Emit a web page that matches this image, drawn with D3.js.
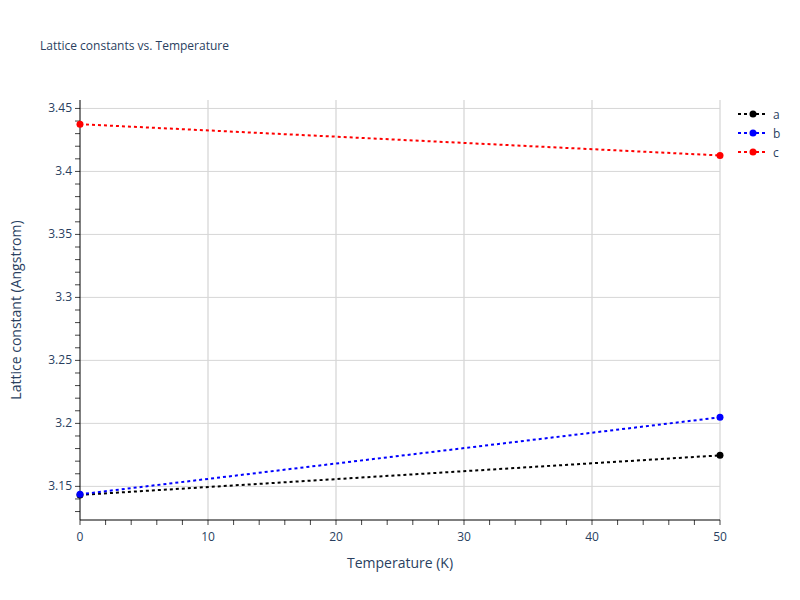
<!DOCTYPE html>
<html><head><meta charset="utf-8">
<script src="https://cdn.jsdelivr.net/npm/d3@7"></script>
<style>body{margin:0;background:#fff}text{font-family:"Open Sans",Arial,sans-serif}</style>
</head><body><svg id="c" width="800" height="600"></svg>
<script>
const temps = [0, 50];
const seriesNames = ["a", "b", "c"];
const aVals = [3.1432, 3.1746];
const bVals = [3.1437, 3.2048];
const cVals = [3.4375, 3.4127];
const colors = ["black", "blue", "red"];
const xTicks = [0, 10, 20, 30, 40, 50];
const yTicks = [3.15, 3.2, 3.25, 3.3, 3.35, 3.4, 3.45];

const svg = d3.select("#c");
const L = 80, R = 720, T = 100, B = 520;
const x = d3.scaleLinear().domain([0, 50]).range([L, R]);
const y = d3.scaleLinear().domain([3.1233, 3.4567]).range([B, T]);

svg.append("text").attr("x", 40).attr("y", 50).attr("font-size", 12).attr("fill", "#2a3f5f").text("Lattice constants vs. Temperature");

const g = svg.append("g");
g.selectAll(".vg").data(xTicks.slice(1)).join("line").attr("x1", d => x(d)).attr("x2", d => x(d)).attr("y1", T).attr("y2", B).attr("stroke", "#dcdcdc").attr("stroke-width", 1.5);
g.selectAll(".hg").data(yTicks).join("line").attr("x1", L).attr("x2", R).attr("y1", d => y(d)).attr("y2", d => y(d)).attr("stroke", "#d6d6d6");

// minor ticks
const yMinor = d3.range(3.13, 3.456, 0.01);
g.selectAll(".ym").data(yMinor).join("line").attr("x1", L - 5).attr("x2", L).attr("y1", d => y(d)).attr("y2", d => y(d)).attr("stroke", "#444");
const xMinor = d3.range(0, 50.1, 2);
g.selectAll(".xm").data(xMinor).join("line").attr("x1", d => x(d)).attr("x2", d => x(d)).attr("y1", B).attr("y2", B + 5).attr("stroke", "#444");

g.append("line").attr("x1", L).attr("x2", L).attr("y1", T).attr("y2", B).attr("stroke", "black");
g.append("line").attr("x1", L).attr("x2", R).attr("y1", B).attr("y2", B).attr("stroke", "black");

g.selectAll(".xl").data(xTicks).join("text").attr("x", d => x(d)).attr("y", B + 21).attr("text-anchor", "middle").attr("font-size", 12).attr("fill", "#2a3f5f").text(d => d);
g.selectAll(".yl").data(yTicks).join("text").attr("x", L - 8).attr("y", d => y(d) + 4).attr("text-anchor", "end").attr("font-size", 12).attr("fill", "#2a3f5f").text(d => d3.format("")(+d.toFixed(2)));

svg.append("text").attr("x", 400).attr("y", 568).attr("text-anchor", "middle").attr("font-size", 14).attr("fill", "#2a3f5f").text("Temperature (K)");
svg.append("text").attr("transform", "translate(21,310) rotate(-90)").attr("text-anchor", "middle").attr("font-size", 14).attr("fill", "#2a3f5f").text("Lattice constant (Angstrom)");

const all = [aVals, bVals, cVals];
const line = d3.line().x((d, i) => x(temps[i])).y(d => y(d));
all.forEach((vals, k) => {
  g.append("path").attr("d", line(vals)).attr("fill", "none").attr("stroke", colors[k]).attr("stroke-width", 2).attr("stroke-dasharray", "3,3");
  g.selectAll(".p" + k).data(vals).join("circle").attr("cx", (d, i) => x(temps[i])).attr("cy", d => y(d)).attr("r", 3.5).attr("fill", colors[k]);
});

const lg = svg.append("g").attr("transform", "translate(738,114)");
seriesNames.forEach((n, k) => {
  const r = lg.append("g").attr("transform", `translate(0,${k * 19})`);
  r.append("line").attr("x1", 0).attr("x2", 30).attr("stroke", colors[k]).attr("stroke-width", 2).attr("stroke-dasharray", "3,3");
  r.append("circle").attr("cx", 15).attr("r", 3.5).attr("fill", colors[k]);
  r.append("text").attr("x", 35).attr("y", 4.5).attr("font-size", 12).attr("fill", "#2a3f5f").text(n);
});
</script></body></html>
